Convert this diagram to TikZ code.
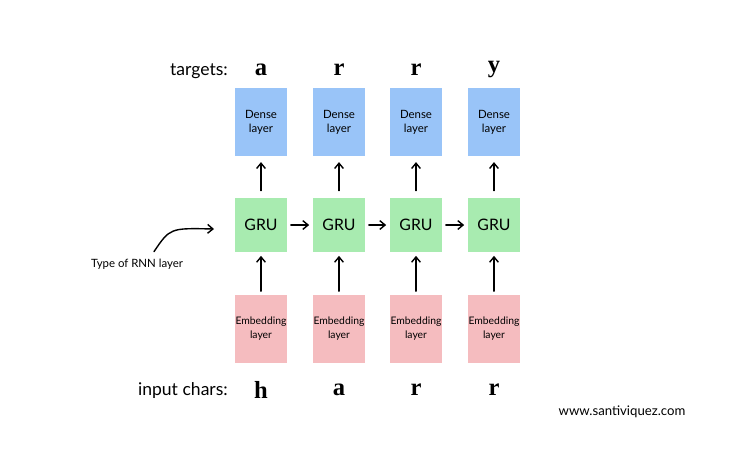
\documentclass[tikz,border=0pt]{standalone}
\usepackage{fontspec}
\setmainfont{Lato}
\newfontfamily\charfont{Liberation Serif}
\usetikzlibrary{arrows.meta}

\definecolor{denseblue}{RGB}{153,196,248}
\definecolor{grugreen}{RGB}{168,235,176}
\definecolor{embpink}{RGB}{245,188,191}

\tikzset{
	layerbox/.style={minimum width=1.04cm, align=center, inner sep=0pt, font=\fontsize{6.5}{8}\selectfont},
	densebox/.style={layerbox, fill=denseblue, minimum height=1.38cm},
	grubox/.style={layerbox, fill=grugreen, minimum height=1.08cm, font=\fontsize{9}{10}\selectfont},
	embbox/.style={layerbox, fill=embpink, minimum height=1.36cm, font=\fontsize{5.9}{8}\selectfont},
	charlabel/.style={font=\charfont\bfseries\fontsize{14}{14}\selectfont},
	arr/.style={-{Straight Barb[length=3pt,width=5pt]}, thick, line cap=round},
}

\begin{document}
\begin{tikzpicture}[x=0.02cm, y=-0.02cm]
		\useasboundingbox (0,0) rectangle (744,457);

		\node[densebox] (d1) at (261,122) {Dense\\layer};
		\node[densebox] (d2) at (339,122) {Dense\\layer};
		\node[densebox] (d3) at (416,122) {Dense\\layer};
		\node[densebox] (d4) at (494,122) {Dense\\layer};

		\node[grubox] (g1) at (261,225) {GRU};
		\node[grubox] (g2) at (339,225) {GRU};
		\node[grubox] (g3) at (416,225) {GRU};
		\node[grubox] (g4) at (494,225) {GRU};

		\node[embbox] (e1) at (261,329) {Embedding\\layer};
		\node[embbox] (e2) at (339,329) {Embedding\\layer};
		\node[embbox] (e3) at (416,329) {Embedding\\layer};
		\node[embbox] (e4) at (494,329) {Embedding\\layer};

		\node[font=\fontsize{10}{10}\selectfont, anchor=east] (tlab) at (234,71) {targets:};
		\node[charlabel] (t1) at (261,70) {a};
		\node[charlabel] (t2) at (339,70) {r};
		\node[charlabel] (t3) at (416,70) {r};
		\node[charlabel] (t4) at (494,70) {y};

		\node[font=\fontsize{10}{10}\selectfont, anchor=east] (ilab) at (234,391) {input chars:};
		\node[charlabel] (i1) at (261,390) {h};
		\node[charlabel] (i2) at (339,390) {a};
		\node[charlabel] (i3) at (416,390) {r};
		\node[charlabel] (i4) at (494,390) {r};

		\node[font=\fontsize{6.5}{8}\selectfont] (rnn) at (137,264) {Type of RNN layer};
		\node[font=\fontsize{7.5}{8}\selectfont] (web) at (622,412) {www.santiviquez.com};

		\draw[arr, shorten <=4pt, shorten >=3pt] (g1) -- (d1);
		\draw[arr, shorten <=4pt, shorten >=3pt] (g2) -- (d2);
		\draw[arr, shorten <=4pt, shorten >=3pt] (g3) -- (d3);
		\draw[arr, shorten <=4pt, shorten >=3pt] (g4) -- (d4);

		\draw[arr, shorten <=2pt, shorten >=2pt] (e1) -- (g1);
		\draw[arr, shorten <=2pt, shorten >=2pt] (e2) -- (g2);
		\draw[arr, shorten <=2pt, shorten >=2pt] (e3) -- (g3);
		\draw[arr, shorten <=2pt, shorten >=2pt] (e4) -- (g4);

		\draw[arr, shorten <=2pt, shorten >=2pt] (g1) -- (g2);
		\draw[arr, shorten <=2pt, shorten >=2pt] (g2) -- (g3);
		\draw[arr, shorten <=2pt, shorten >=2pt] (g3) -- (g4);

		\coordinate (rnnend) at (214,229);
		\draw[arr] ([xshift=0.34cm, yshift=0.02cm]rnn.north) .. controls (170,228) .. (rnnend);
	\end{tikzpicture}
\end{document}
